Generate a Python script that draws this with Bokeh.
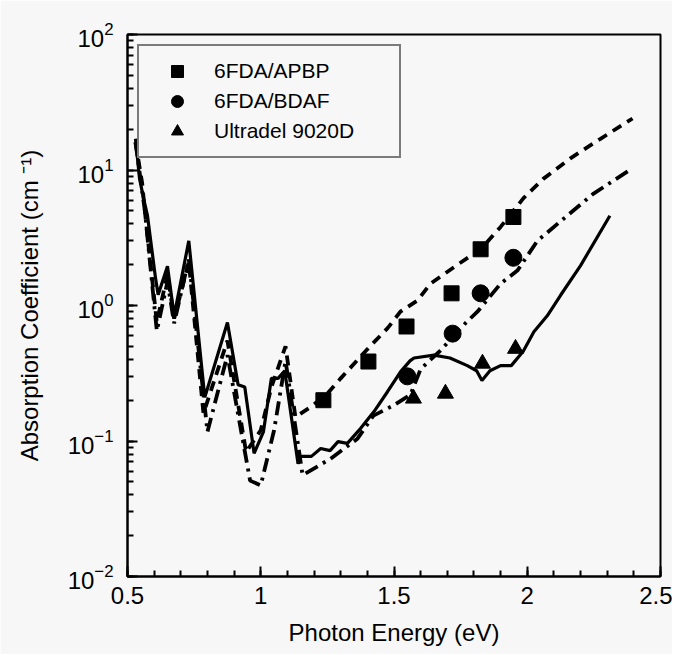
from bokeh.plotting import figure
from bokeh.models import Legend, LegendItem, FixedTicker, Range1d
from bokeh.embed import file_html
from bokeh.resources import INLINE

# ---- data ----
apbp_x = [1.235, 1.404, 1.547, 1.716, 1.825, 1.948]
apbp_y = [0.20, 0.386, 0.70, 1.23, 2.6, 4.5]

bdaf_x = [1.55, 1.72, 1.825, 1.948]
bdaf_y = [0.30, 0.62, 1.23, 2.25]

ultra_x = [1.573, 1.693, 1.832, 1.956]
ultra_y = [0.206, 0.224, 0.373, 0.48]

solid_x = [0.53, 0.545, 0.56, 0.575, 0.605, 0.615, 0.65, 0.675, 0.73, 0.79, 0.875, 0.915,
           0.94, 0.975, 1.01, 1.04, 1.065, 1.09, 1.14, 1.15, 1.19, 1.225, 1.26, 1.29, 1.325,
           1.375, 1.425, 1.475, 1.525, 1.56, 1.575, 1.65, 1.71, 1.775, 1.81, 1.83, 1.86, 1.9,
           1.94, 1.985, 2.025, 2.075, 2.125, 2.2, 2.31]
solid_y = [17, 8.7, 6.2, 4.6, 1.6, 1.2, 1.95, 0.84, 3.0, 0.21, 0.75, 0.26,
           0.25, 0.081, 0.117, 0.29, 0.29, 0.33, 0.068, 0.077, 0.077, 0.088, 0.085, 0.099, 0.096,
           0.124, 0.165, 0.23, 0.325, 0.39, 0.41, 0.43, 0.41, 0.36, 0.33, 0.28, 0.33, 0.36,
           0.36, 0.46, 0.64, 0.84, 1.19, 1.97, 4.6]

dash_x = [0.53, 0.555, 0.565, 0.61, 0.65, 0.675, 0.73, 0.785, 0.875, 0.945, 1.0, 1.04,
          1.093, 1.13, 1.19, 1.25, 1.30, 1.41, 1.476, 1.524, 1.588, 1.637, 1.738, 1.825,
          1.90, 1.986, 2.06, 2.162, 2.275, 2.395]
dash_y = [16, 8.0, 5.0, 0.75, 1.7, 0.8, 2.1, 0.16, 0.55, 0.083, 0.12, 0.25,
          0.50, 0.15, 0.18, 0.224, 0.29, 0.50, 0.68, 0.90, 1.09, 1.45, 2.0, 2.6,
          3.8, 6.2, 8.6, 12.2, 17, 24]

dd_x = [0.53, 0.555, 0.565, 0.61, 0.65, 0.675, 0.73, 0.80, 0.875, 0.96, 1.0, 1.05,
        1.093, 1.157, 1.262, 1.363, 1.423, 1.498, 1.562, 1.60, 1.674, 1.768, 1.813,
        1.90, 1.963, 2.038, 2.15, 2.249, 2.395]
dd_y = [16, 7.0, 5.0, 0.65, 1.5, 0.74, 2.2, 0.117, 0.43, 0.051, 0.047, 0.12,
        0.39, 0.056, 0.074, 0.104, 0.154, 0.183, 0.22, 0.34, 0.465, 0.74, 0.90,
        1.45, 1.81, 3.0, 4.6, 6.7, 10.3]

x_ticks = [0.5, 1.0, 1.5, 2.0, 2.5]
x_tick_labels = {0.5: "0.5", 1.0: "1", 1.5: "1.5", 2.0: "2", 2.5: "2.5"}

labels = ["6FDA/APBP", "6FDA/BDAF", "Ultradel 9020D"]

FONT = "Liberation Sans"
BG = "#f7f7f7"

p = figure(width=672, height=654, y_axis_type="log", output_backend="svg",
           toolbar_location=None, x_range=Range1d(0.5, 2.5), y_range=Range1d(0.01, 100),
           min_border_left=127, min_border_top=34, min_border_right=12, min_border_bottom=78)
p.background_fill_color = BG
p.border_fill_color = BG
p.outline_line_color = "black"
p.outline_line_width = 2
p.grid.visible = False

# lines
p.line(solid_x, solid_y, line_color="black", line_width=3.2)
p.line(dash_x, dash_y, line_color="black", line_width=3.8, line_dash="10 7")
p.line(dd_x, dd_y, line_color="black", line_width=3.8, line_dash="14 6 3 6")

# markers
r1 = p.scatter(apbp_x, apbp_y, marker="square", size=15, fill_color="black", line_color="black")
r2 = p.scatter(bdaf_x, bdaf_y, marker="circle", size=17, fill_color="black", line_color="black")
r3 = p.scatter(ultra_x, ultra_y, marker="triangle", size=16, fill_color="black", line_color="black")

legend = Legend(items=[LegendItem(label=labels[0], renderers=[r1]),
                       LegendItem(label=labels[1], renderers=[r2]),
                       LegendItem(label=labels[2], renderers=[r3])],
                location="top_left")
legend.margin = 10
legend.padding = 10
legend.spacing = 0
legend.glyph_width = 56
legend.glyph_height = 30
legend.label_standoff = 9
legend.label_width = 175
legend.label_height = 24
legend.label_text_font = FONT
legend.label_text_font_size = "21px"
legend.label_text_color = "black"
legend.border_line_color = "black"
legend.border_line_width = 2
legend.background_fill_color = BG
legend.background_fill_alpha = 1.0
p.add_layout(legend, "center")

# axes
xa = p.xaxis[0]
xa.ticker = FixedTicker(ticks=x_ticks, minor_ticks=[round(0.5 + 0.1 * i, 2) for i in range(21)])
xa.major_label_overrides = x_tick_labels
xa.axis_label = "Photon Energy (eV)"

ya = p.yaxis[0]
ya.ticker.num_minor_ticks = 10
ya.axis_label = "Absorption Coefficient (cm \u207b\u00b9)"

for ax in (xa, ya):
    ax.axis_line_width = 2
    ax.axis_line_color = "black"
    ax.major_tick_in = 10
    ax.major_tick_out = 0
    ax.minor_tick_in = 6
    ax.minor_tick_out = 0
    ax.major_tick_line_width = 2
    ax.minor_tick_line_width = 2
    ax.major_label_text_font = FONT
    ax.major_label_text_font_size = "24px"
    ax.major_label_text_color = "black"
    ax.axis_label_text_font = FONT
    ax.axis_label_text_font_size = "24px"
    ax.axis_label_text_font_style = "normal"
    ax.axis_label_text_color = "black"

xa.major_label_standoff = 10
xa.axis_label_standoff = 12
ya.major_label_standoff = 14
ya.axis_label_standoff = 22

open("out.html", "w").write(file_html(p, INLINE))
